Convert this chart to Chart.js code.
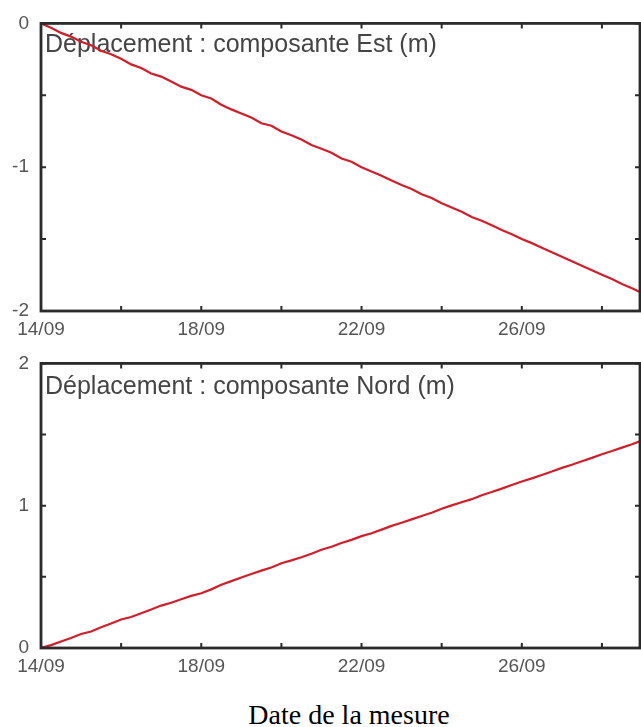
<!DOCTYPE html>
<html>
<head>
<meta charset="utf-8">
<script src="https://cdn.jsdelivr.net/npm/chart.js@4"></script>
<style>
  html, body { margin: 0; padding: 0; background: #fff; }
  body { width: 641px; height: 727px; position: relative; overflow: hidden; }
  canvas { position: absolute; left: 0; }
  #c1 { top: 0; }
  #c2 { top: 340px; }
  #xlabel {
    position: absolute; left: 0; width: 698px; top: 697px;
    text-align: center; font-family: "Liberation Serif", "Times New Roman", serif;
    font-size: 28px; color: #000; line-height: 36px;
  }
</style>
</head>
<body>
<canvas id="c1" width="641" height="340"></canvas>
<canvas id="c2" width="641" height="345"></canvas>
<div id="xlabel">Date de la mesure</div>
<script>
// Measurement times, in days of September (every 6 hours from 14/09)
const days = [
  14.00, 14.25, 14.50, 14.75, 15.00, 15.25, 15.50, 15.75, 16.00, 16.25,
  16.50, 16.75, 17.00, 17.25, 17.50, 17.75, 18.00, 18.25, 18.50, 18.75,
  19.00, 19.25, 19.50, 19.75, 20.00, 20.25, 20.50, 20.75, 21.00, 21.25,
  21.50, 21.75, 22.00, 22.25, 22.50, 22.75, 23.00, 23.25, 23.50, 23.75,
  24.00, 24.25, 24.50, 24.75, 25.00, 25.25, 25.50, 25.75, 26.00, 26.25,
  26.50, 26.75, 27.00, 27.25, 27.50, 27.75, 28.00, 28.25, 28.50, 28.75,
  29.00
];

// East component of displacement (m)
const estValues = [
   0.000, -0.030, -0.066, -0.092, -0.128, -0.152, -0.190, -0.214, -0.246, -0.285,
  -0.310, -0.348, -0.370, -0.404, -0.440, -0.462, -0.500, -0.522, -0.566, -0.598,
  -0.626, -0.655, -0.694, -0.712, -0.752, -0.778, -0.808, -0.846, -0.872, -0.900,
  -0.940, -0.962, -1.000, -1.030, -1.060, -1.092, -1.124, -1.152, -1.188, -1.214,
  -1.250, -1.280, -1.310, -1.346, -1.372, -1.404, -1.436, -1.466, -1.500, -1.528,
  -1.560, -1.592, -1.622, -1.654, -1.686, -1.716, -1.748, -1.778, -1.812, -1.842,
  -1.874
];

// North component of displacement (m)
const nordValues = [
  0.000, 0.020, 0.046, 0.070, 0.098, 0.116, 0.146, 0.172, 0.200, 0.218,
  0.244, 0.270, 0.298, 0.318, 0.342, 0.366, 0.385, 0.412, 0.444, 0.470,
  0.496, 0.520, 0.544, 0.566, 0.596, 0.616, 0.638, 0.662, 0.690, 0.712,
  0.738, 0.760, 0.786, 0.806, 0.832, 0.858, 0.880, 0.904, 0.928, 0.950,
  0.978, 1.002, 1.024, 1.046, 1.074, 1.096, 1.120, 1.146, 1.170, 1.192,
  1.216, 1.240, 1.266, 1.288, 1.312, 1.336, 1.362, 1.384, 1.408, 1.432,
  1.458
];

// Axis ticks
const xTicks = [14, 16, 18, 20, 22, 24, 26, 28];
const xLabelled = [14, 18, 22, 26];
const estTicks = [0, -0.5, -1, -1.5, -2];
const nordTicks = [0, 0.5, 1, 1.5, 2];

const titles = {
  est: "Déplacement : composante Est (m)",
  nord: "Déplacement : composante Nord (m)"
};

const LINE_RED = "#cf1f2b";
const FRAME = "#2a2a2a";
const TEXT_GREY = "#555555";
const SANS = '"Liberation Sans", Arial, sans-serif';

// Frame, inward (mirrored) tick marks and in-panel title
const framePlugin = {
  id: "frame",
  beforeDatasetsDraw(chart, args, opts) {
    const { ctx, chartArea: a } = chart;
    ctx.save();
    ctx.fillStyle = "#444";
    ctx.font = "25px " + SANS;
    ctx.textBaseline = "middle";
    ctx.textAlign = "left";
    ctx.fillText(opts.title, a.left + 4, a.top + opts.titleDy);
    ctx.restore();
  },
  afterDatasetsDraw(chart) {
    const { ctx, chartArea: a, scales } = chart;
    ctx.save();
    ctx.strokeStyle = FRAME;
    ctx.lineWidth = 2.8;
    ctx.strokeRect(a.left, a.top, a.right - a.left, a.bottom - a.top);
    ctx.lineWidth = 2;
    const len = 5;
    ctx.beginPath();
    scales.x.ticks.forEach(t => {
      const px = scales.x.getPixelForValue(t.value);
      ctx.moveTo(px, a.bottom); ctx.lineTo(px, a.bottom - len);
      ctx.moveTo(px, a.top); ctx.lineTo(px, a.top + len);
    });
    scales.y.ticks.forEach(t => {
      const py = scales.y.getPixelForValue(t.value);
      ctx.moveTo(a.left, py); ctx.lineTo(a.left + len, py);
      ctx.moveTo(a.right, py); ctx.lineTo(a.right - len, py);
    });
    ctx.stroke();
    ctx.restore();
  }
};

function makeChart(canvasId, values, yMin, yMax, yTicks, title, padTop, xHeight, titleDy) {
  return new Chart(document.getElementById(canvasId), {
    type: "line",
    data: {
      labels: days,
      datasets: [{
        data: days.map((d, i) => ({ x: d, y: values[i] })),
        borderColor: LINE_RED,
        borderWidth: 2.2,
        pointRadius: 0,
        tension: 0,
        fill: false
      }]
    },
    options: {
      responsive: false,
      animation: false,
      devicePixelRatio: 1,
      layout: { padding: { top: padTop, right: 1, left: 0, bottom: 0 } },
      plugins: {
        legend: { display: false },
        tooltip: { enabled: false },
        frame: { title: title, titleDy: titleDy }
      },
      scales: {
        x: {
          type: "linear",
          min: 14,
          max: 28.95,
          grid: { display: false, drawTicks: false },
          border: { display: false },
          afterBuildTicks: s => { s.ticks = xTicks.map(v => ({ value: v })); },
          afterFit: s => { s.height = xHeight; },
          ticks: {
            autoSkip: false,
            maxRotation: 0,
            padding: 7,
            color: TEXT_GREY,
            font: { family: SANS, size: 19 },
            callback: v => xLabelled.includes(v) ? v + "/09" : ""
          }
        },
        y: {
          type: "linear",
          min: yMin,
          max: yMax,
          grid: { display: false, drawTicks: false },
          border: { display: false },
          afterBuildTicks: s => { s.ticks = yTicks.map(v => ({ value: v })); },
          afterFit: s => { s.width = 41; },
          ticks: {
            autoSkip: false,
            padding: 12,
            color: TEXT_GREY,
            font: { family: SANS, size: 19 },
            callback: v => Number.isInteger(v) ? String(v) : ""
          }
        }
      }
    },
    plugins: [framePlugin]
  });
}

makeChart("c1", estValues, -2, 0, estTicks, titles.est, 16, 29, 22);
makeChart("c2", nordValues, 0, 2, nordTicks, titles.nord, 12, 37, 24);
</script>
</body>
</html>
